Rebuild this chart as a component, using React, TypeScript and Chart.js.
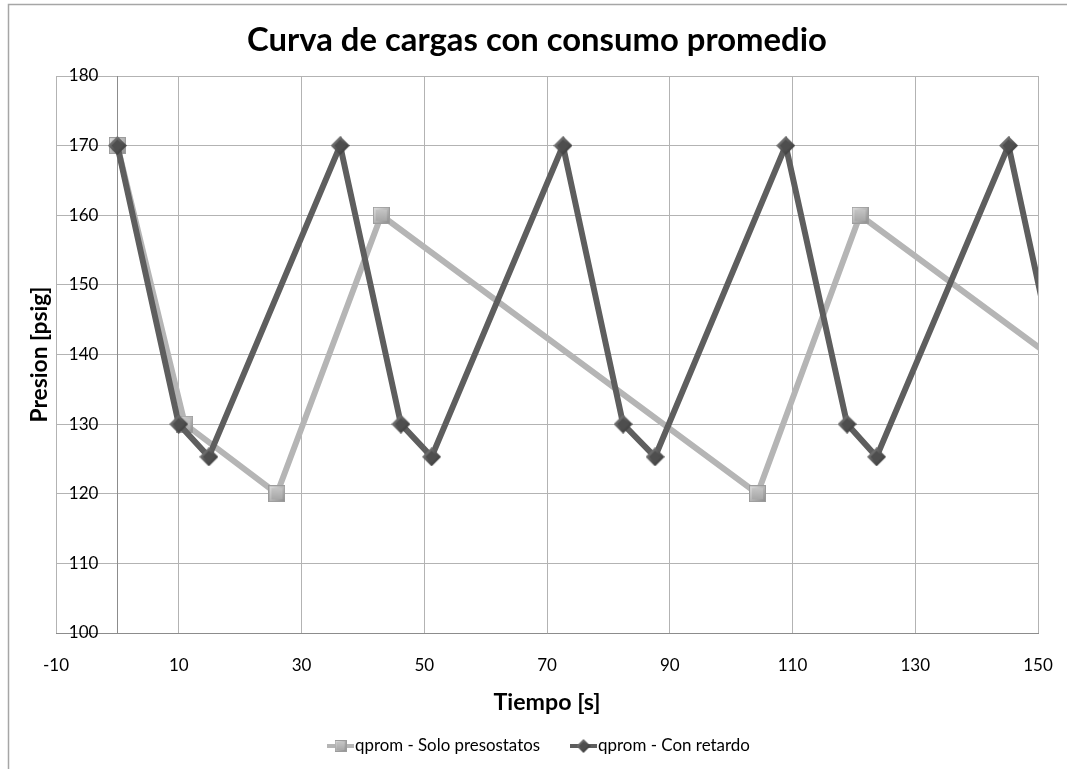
import React, { useEffect, useRef } from 'react';
import { Chart, registerables } from 'chart.js';

Chart.register(...registerables);

const titleText = 'Curva de cargas con consumo promedio';
const xTitleText = 'Tiempo [s]';
const yTitleText = 'Presion [psig]';
const seriesNames = ['qprom - Solo presostatos', 'qprom - Con retardo'];

const soloX = [0, 11, 26, 43, 104.3, 121, 182.4];
const soloY = [170, 130, 120, 160, 120, 160, 120];

const retardoX = [0, 10, 14.9, 36.3, 46.2, 51.2, 72.6, 82.4, 87.6, 108.9, 118.9, 123.7, 145.2, 155, 160];
const retardoY = [170, 130, 125.3, 170, 130, 125.3, 170, 130, 125.3, 170, 130, 125.3, 170, 130, 125.3];

const xTicks = [-10, 10, 30, 50, 70, 90, 110, 130, 150];
const yTicks = [100, 110, 120, 130, 140, 150, 160, 170, 180];

const FONT = 'Lato, "Open Sans", sans-serif';
const LIGHT = '#b5b5b5';
const DARK = '#5e5e5e';

function makeSquare(size: number) {
  const c = document.createElement('canvas');
  c.width = size;
  c.height = size;
  const g = c.getContext('2d')!;
  const grad = g.createLinearGradient(0, 0, size, size);
  grad.addColorStop(0, '#e2e2e2');
  grad.addColorStop(0.5, '#b6b6b6');
  grad.addColorStop(1, '#8a8a8a');
  g.fillStyle = grad;
  g.fillRect(0, 0, size, size);
  const inset = Math.max(2, Math.round(size * 0.18));
  const g2 = g.createLinearGradient(0, inset, 0, size - inset);
  g2.addColorStop(0, '#c4c4c4');
  g2.addColorStop(1, '#a8a8a8');
  g.fillStyle = g2;
  g.fillRect(inset, inset, size - 2 * inset, size - 2 * inset);
  g.strokeStyle = '#9c9c9c';
  g.lineWidth = 1;
  g.strokeRect(0.5, 0.5, size - 1, size - 1);
  return c;
}

function makeDiamond(size: number) {
  const c = document.createElement('canvas');
  c.width = size;
  c.height = size;
  const g = c.getContext('2d')!;
  const h = size / 2;
  const path = (r: number) => {
    g.beginPath();
    g.moveTo(h, h - r);
    g.lineTo(h + r, h);
    g.lineTo(h, h + r);
    g.lineTo(h - r, h);
    g.closePath();
  };
  const grad = g.createLinearGradient(0, 0, size, size);
  grad.addColorStop(0, '#8a8a8a');
  grad.addColorStop(0.5, '#555555');
  grad.addColorStop(1, '#303030');
  path(h);
  g.fillStyle = grad;
  g.fill();
  path(h * 0.62);
  g.fillStyle = '#4e4e4e';
  g.fill();
  return c;
}

// choose a font size so that text has the wanted width
function fitFont(ctx: CanvasRenderingContext2D, text: string, width: number, weight: string) {
  ctx.font = `${weight} 20px ${FONT}`;
  const w = ctx.measureText(text).width;
  const size = (20 * width) / w;
  ctx.font = `${weight} ${size.toFixed(2)}px ${FONT}`;
}

export default function App() {
  const canvasRef = useRef<HTMLCanvasElement | null>(null);

  useEffect(() => {
    if (!canvasRef.current) return;
    const square = makeSquare(17);
    const diamond = makeDiamond(19);
    const squareSmall = makeSquare(12);
    const diamondSmall = makeDiamond(14);

    const decor = {
      id: 'decor',
      beforeDraw(chart: any) {
        const ctx = chart.ctx;
        ctx.save();
        ctx.fillStyle = '#ffffff';
        ctx.fillRect(0, 0, chart.width, chart.height);
        ctx.strokeStyle = '#a6a6a6';
        ctx.lineWidth = 1.5;
        ctx.beginPath();
        ctx.moveTo(8.5, chart.height);
        ctx.lineTo(8.5, 4.5);
        ctx.lineTo(chart.width, 4.5);
        ctx.stroke();
        ctx.restore();
      },
      afterDraw(chart: any) {
        const ctx = chart.ctx;
        const area = chart.chartArea;
        const xs = chart.scales.x;
        const ys = chart.scales.y;
        ctx.save();
        ctx.fillStyle = '#000';

        // y tick labels next to the vertical axis (which crosses at x = 0)
        ctx.font = `17px ${FONT}`;
        ctx.textAlign = 'right';
        ctx.textBaseline = 'middle';
        const axisX = xs.getPixelForValue(0);
        for (const v of yTicks) {
          ctx.fillText(String(v), axisX - 19, ys.getPixelForValue(v));
        }

        ctx.textAlign = 'center';
        fitFont(ctx, titleText, 580, 'bold');
        ctx.fillText(titleText, 537, 40);
        fitFont(ctx, xTitleText, 107, 'bold');
        ctx.fillText(xTitleText, 547, 703);
        ctx.save();
        ctx.translate(40, (area.top + area.bottom) / 2);
        ctx.rotate(-Math.PI / 2);
        fitFont(ctx, yTitleText, 136, 'bold');
        ctx.fillText(yTitleText, 0, 0);
        ctx.restore();

        // legend
        const ly = 746;
        ctx.textAlign = 'left';
        const items = [
          { x: 327, color: LIGHT, img: squareSmall, name: seriesNames[0], w: 185 },
          { x: 570, color: DARK, img: diamondSmall, name: seriesNames[1], w: 152 },
        ];
        for (const it of items) {
          ctx.strokeStyle = it.color;
          ctx.lineWidth = 4;
          ctx.beginPath();
          ctx.moveTo(it.x, ly);
          ctx.lineTo(it.x + 27, ly);
          ctx.stroke();
          ctx.drawImage(it.img, it.x + 13.5 - it.img.width / 2, ly - it.img.height / 2);
          fitFont(ctx, it.name, it.w, 'normal');
          ctx.fillText(it.name, it.x + 28, ly);
        }
        ctx.restore();
      },
    };

    const chart = new Chart(canvasRef.current, {
      type: 'line',
      data: {
        datasets: [
          {
            label: seriesNames[0],
            data: soloX.map((x, i) => ({ x, y: soloY[i] })),
            borderColor: LIGHT,
            backgroundColor: LIGHT,
            borderWidth: 6,
            pointStyle: square as any,
            pointRadius: 9,
            tension: 0,
            clip: 0,
            order: 2,
          },
          {
            label: seriesNames[1],
            data: retardoX.map((x, i) => ({ x, y: retardoY[i] })),
            borderColor: DARK,
            backgroundColor: DARK,
            borderWidth: 6,
            pointStyle: diamond as any,
            pointRadius: 10,
            tension: 0,
            clip: 0,
            order: 1,
          },
        ],
      },
      options: {
        animation: false,
        responsive: true,
        maintainAspectRatio: false,
        layout: { padding: { left: 56, right: 29, top: 76, bottom: 94 } },
        plugins: {
          legend: { display: false },
          title: { display: false },
          tooltip: { enabled: false },
        },
        scales: {
          x: {
            type: 'linear',
            min: -10,
            max: 150,
            afterBuildTicks: (s: any) => {
              s.ticks = xTicks.map((v) => ({ value: v }));
            },
            afterFit: (s: any) => {
              s.height = 42;
              s.paddingLeft = 0;
              s.paddingRight = 0;
            },
            grid: { color: '#b3b3b3', drawTicks: false, lineWidth: 1 },
            border: { color: '#8c8c8c', width: 1 },
            ticks: {
              padding: 22,
              autoSkip: false,
              maxRotation: 0,
              color: '#000',
              font: { family: FONT, size: 17 },
            },
          },
          y: {
            type: 'linear',
            min: 100,
            max: 180,
            position: { x: 0 } as any,
            afterBuildTicks: (s: any) => {
              s.ticks = yTicks.map((v) => ({ value: v }));
            },
            grid: { color: '#b3b3b3', drawTicks: false, lineWidth: 1 },
            border: { color: '#8c8c8c', width: 1 },
            ticks: { display: false },
          },
        },
      },
      plugins: [decor],
    });

    return () => chart.destroy();
  }, []);

  return (
    <div style={{ position: 'absolute', left: 0, top: 0, width: 1067, height: 769 }}>
      <canvas ref={canvasRef} />
    </div>
  );
}
